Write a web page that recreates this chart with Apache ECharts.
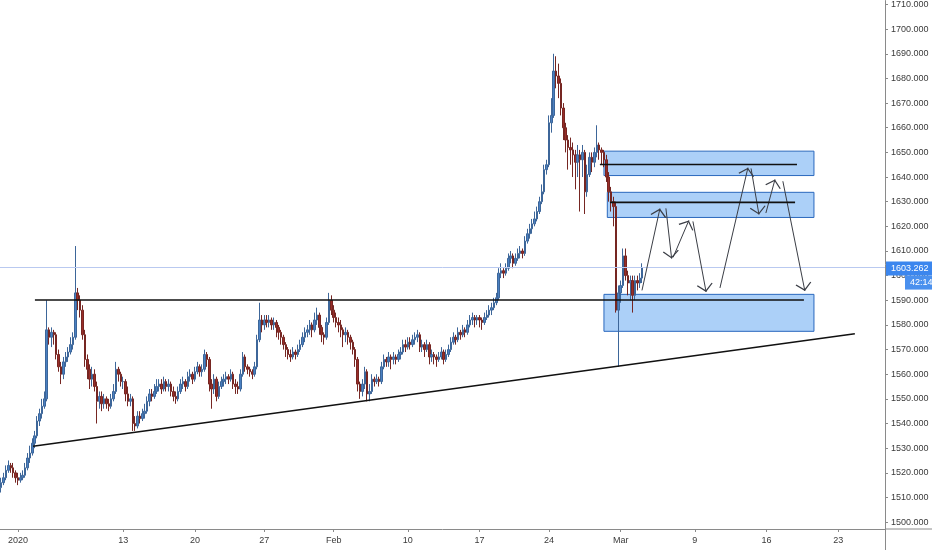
<!DOCTYPE html>
<html>
<head>
<meta charset="utf-8">
<script src="https://cdn.jsdelivr.net/npm/echarts@6/dist/echarts.min.js"></script>
<style>
html,body{margin:0;padding:0;background:#fff;}
#c{width:932px;height:550px;}
</style>
</head>
<body>
<div id="c"></div>
<script>
// ---------- data ----------
const slotCount = 370;                       // 4h bars that fit across the time axis
const slots = Array.from({length: slotCount}, (_, i) => String(i));
const tickIdx = [7, 51, 81, 110, 139, 170, 200, 229, 259, 290, 320, 350];
const tickLabels = ['2020', '13', '20', '27', 'Feb', '10', '17', '24', 'Mar', '9', '16', '23'];
const priceTicks = [1500,1510,1520,1530,1540,1550,1560,1570,1580,1590,1600,1610,1620,1630,1640,1650,1660,1670,1680,1690,1700,1710];
const lastPrice = 1603.262;
const countdown = '42:14';

// [open, close, low, high]
const candles = [
[1514,1516,1512,1518],[1516,1518,1515,1520],[1518,1521,1517,1523],[1521,1523,1520,1525],[1523,1522,1520,1524],
[1522,1520,1518,1524],[1520,1518,1516,1521],[1518,1517,1515,1520],[1517,1518,1516,1520],[1518,1519,1517,1521],
[1519,1522,1518,1524],[1522,1526,1521,1528],[1526,1528,1524,1531],[1528,1532,1527,1534],[1532,1535,1530,1537],
[1535,1541,1534,1543],[1541,1544,1539,1546],[1544,1547,1542,1550],[1547,1550,1546,1553],[1550,1578,1549,1590],
[1578,1575,1572,1579],[1575,1577,1571,1579],[1577,1576,1572,1578],[1576,1568,1566,1577],[1568,1563,1561,1570],
[1563,1560,1556,1565],[1560,1565,1558,1567],[1565,1567,1563,1569],[1567,1569,1565,1571],[1569,1572,1568,1575],
[1572,1575,1570,1577],[1575,1593,1574,1612],[1593,1590,1586,1595],[1590,1586,1583,1592],[1586,1576,1574,1588],
[1576,1566,1563,1578],[1566,1562,1558,1568],[1562,1558,1554,1564],[1558,1560,1555,1563],[1560,1555,1553,1562],
[1555,1549,1540,1557],[1549,1551,1546,1553],[1551,1548,1545,1553],[1548,1550,1546,1552],[1550,1548,1546,1551],
[1548,1547,1545,1550],[1547,1550,1546,1552],[1550,1553,1549,1556],[1553,1562,1552,1565],[1562,1560,1557,1563],
[1560,1557,1555,1561],[1557,1557,1554,1559],[1557,1552,1549,1558],[1552,1549,1547,1555],[1549,1550,1547,1552],
[1550,1540,1537,1551],[1540,1539,1537,1543],[1539,1543,1538,1545],[1543,1542,1540,1545],[1542,1544,1541,1546],
[1544,1545,1542,1548],[1545,1549,1544,1551],[1549,1552,1547,1554],[1552,1551,1549,1554],[1551,1553,1550,1556],
[1553,1555,1552,1558],[1555,1556,1553,1558],[1556,1554,1552,1558],[1554,1557,1553,1559],[1557,1555,1553,1558],
[1555,1556,1553,1558],[1556,1553,1551,1557],[1553,1551,1549,1555],[1551,1550,1548,1553],[1550,1553,1549,1555],
[1553,1556,1552,1558],[1556,1557,1554,1559],[1557,1555,1553,1558],[1555,1559,1554,1561],[1559,1560,1557,1562],
[1560,1558,1556,1561],[1558,1561,1557,1563],[1561,1563,1560,1565],[1563,1561,1559,1564],[1561,1562,1559,1564],
[1562,1568,1561,1570],[1568,1566,1563,1569],[1566,1556,1553,1567],[1556,1554,1546,1558],[1554,1558,1552,1560],
[1558,1551,1549,1559],[1551,1555,1550,1557],[1555,1557,1554,1559],[1557,1558,1555,1560],[1558,1559,1556,1561],
[1559,1558,1556,1560],[1558,1560,1557,1562],[1560,1556,1554,1561],[1556,1555,1552,1558],[1555,1554,1552,1557],
[1554,1560,1553,1562],[1560,1567,1559,1569],[1567,1563,1561,1568],[1563,1562,1560,1564],[1562,1561,1559,1563],
[1561,1560,1558,1562],[1560,1563,1559,1565],[1563,1574,1562,1576],[1574,1582,1573,1589],[1582,1580,1577,1584],
[1580,1582,1578,1584],[1582,1581,1579,1584],[1581,1582,1579,1584],[1582,1580,1578,1583],[1580,1581,1578,1583],
[1581,1579,1575,1582],[1579,1577,1574,1580],[1577,1575,1572,1578],[1575,1572,1570,1576],[1572,1570,1567,1573],
[1570,1568,1566,1571],[1568,1567,1565,1570],[1567,1569,1566,1571],[1569,1568,1566,1570],[1568,1570,1567,1572],
[1570,1572,1569,1574],[1572,1575,1571,1577],[1575,1577,1573,1579],[1577,1578,1575,1580],[1578,1580,1576,1582],
[1580,1578,1575,1581],[1578,1582,1577,1585],[1582,1584,1580,1587],[1584,1579,1576,1585],[1579,1576,1573,1580],
[1576,1575,1572,1577],[1575,1581,1574,1583],[1581,1590,1580,1593],[1590,1586,1584,1592],[1586,1583,1581,1588],
[1583,1581,1579,1585],[1581,1580,1577,1583],[1580,1578,1575,1582],[1578,1576,1571,1579],[1576,1577,1573,1579],
[1577,1575,1572,1578],[1575,1573,1570,1576],[1573,1570,1568,1574],[1570,1566,1563,1571],[1566,1556,1553,1567],
[1556,1553,1550,1557],[1553,1556,1551,1558],[1556,1561,1554,1563],[1561,1552,1549,1562],[1552,1553,1549,1556],
[1553,1558,1552,1560],[1558,1557,1555,1559],[1557,1558,1556,1560],[1558,1557,1555,1559],[1557,1563,1556,1565],
[1563,1566,1562,1568],[1566,1565,1563,1567],[1565,1567,1563,1569],[1567,1566,1562,1568],[1566,1567,1564,1569],
[1567,1566,1564,1568],[1566,1568,1565,1570],[1568,1569,1566,1571],[1569,1572,1568,1574],[1572,1571,1569,1574],
[1571,1573,1570,1575],[1573,1572,1570,1575],[1572,1574,1571,1576],[1574,1575,1572,1577],[1575,1576,1573,1578],
[1576,1571,1569,1577],[1571,1572,1569,1574],[1572,1570,1567,1573],[1570,1572,1569,1574],[1572,1567,1564,1573],
[1567,1568,1565,1570],[1568,1567,1564,1569],[1567,1566,1563,1568],[1566,1567,1565,1569],[1567,1569,1566,1571],
[1569,1566,1564,1570],[1566,1568,1565,1570],[1568,1570,1567,1572],[1570,1573,1569,1575],[1573,1575,1572,1577],
[1575,1574,1572,1576],[1574,1577,1573,1579],[1577,1576,1574,1578],[1576,1578,1575,1580],[1578,1577,1575,1579],
[1577,1580,1576,1582],[1580,1582,1579,1584],[1582,1583,1580,1585],[1583,1582,1579,1584],[1582,1583,1580,1584],
[1583,1582,1579,1584],[1582,1581,1578,1583],[1581,1583,1580,1585],[1583,1584,1582,1586],[1584,1586,1583,1588],
[1586,1587,1584,1589],[1587,1589,1586,1591],[1589,1591,1588,1593],[1591,1601,1590,1603],[1601,1602,1599,1605],
[1602,1601,1599,1603],[1601,1603,1600,1605],[1603,1607,1602,1609],[1607,1608,1605,1610],[1608,1605,1603,1609],
[1605,1607,1604,1609],[1607,1609,1606,1611],[1609,1610,1607,1612],[1610,1609,1607,1611],[1609,1614,1608,1616],
[1614,1617,1613,1619],[1617,1619,1615,1621],[1619,1621,1617,1623],[1621,1623,1620,1626],[1623,1626,1622,1628],
[1626,1630,1625,1632],[1630,1634,1629,1637],[1634,1643,1633,1645],[1643,1645,1641,1647],[1645,1662,1644,1665],
[1662,1665,1658,1672],[1665,1683,1664,1690],[1683,1681,1676,1689],[1681,1678,1672,1686],[1678,1668,1665,1680],
[1668,1660,1655,1670],[1660,1655,1650,1662],[1655,1652,1643,1657],[1652,1651,1645,1656],[1651,1649,1640,1654],
[1649,1646,1635,1651],[1646,1649,1640,1653],[1649,1647,1626,1651],[1647,1650,1640,1653],[1650,1634,1625,1651],
[1634,1641,1632,1645],[1641,1648,1640,1650],[1648,1646,1642,1650],[1646,1650,1644,1652],[1650,1653,1648,1661],
[1653,1651,1647,1654],[1651,1650,1645,1652],[1650,1647,1644,1651],[1647,1640,1638,1649],[1640,1634,1630,1642],
[1634,1630,1626,1636],[1630,1628,1620,1632],[1628,1586,1585,1630],[1586,1593,1563,1596],[1593,1596,1589,1598],
[1596,1608,1595,1611],[1608,1600,1598,1611],[1600,1597,1592,1602],[1597,1598,1590,1600],[1598,1592,1585,1600],
[1592,1598,1590,1600],[1598,1597,1594,1600],[1597,1599,1595,1601],[1599,1603.262,1597,1605]
];

// drawings (x in bar-slot units, y in price)
const trendLine = [[13.3, 1530.8], [356.9, 1576.4]];
const resistanceLine = [[14.1, 1590.1], [335.6, 1590.1]];
const zoneLineA = [[250.3, 1645.1], [332.7, 1645.1]];
const zoneLineB = [[254.5, 1629.7], [331.9, 1629.7]];
const zones = [           // [x1, top, x2, bottom]
  [252.0, 1650.5, 339.8, 1640.6],
  [253.4, 1633.8, 339.8, 1623.6],
  [252.0, 1592.4, 339.8, 1577.4]
];
const arrows = [          // [x1, y1, x2, y2]
  [267.9, 1594.0, 275.4, 1627.2],
  [277.9, 1627.3, 280.3, 1606.9],
  [280.9, 1607.4, 287.5, 1622.4],
  [289.2, 1622.0, 294.7, 1593.4],
  [300.5, 1595.0, 312.2, 1643.8],
  [313.5, 1643.5, 316.8, 1624.8],
  [319.7, 1625.4, 323.5, 1639.0],
  [326.8, 1638.3, 336.0, 1593.8]
];

// ---------- chart ----------
const FONT = 'Liberation Sans, Arial, sans-serif';
const AXIS = '#8a8a8a';
// open chevron pointing "up"; an invisible speck below keeps the apex at the symbol centre
const chevron = 'path://M0,7L7,0L14,7L13.2,7.8L7,1.6L0.8,7.8Z M6.95,-7.8L7.05,-7.8L7,-7.75Z';
const chart = echarts.init(document.getElementById('c'), null, {renderer: 'canvas'});

const lineSeries = (pts, width, color) => ({
  type: 'line', xAxisIndex: 1, yAxisIndex: 0, data: pts, symbol: 'none', silent: true,
  lineStyle: {color: color, width: width}, z: 6, animation: false
});

chart.setOption({
  animation: false,
  backgroundColor: '#ffffff',
  grid: {left: 0, right: 47, top: 0, bottom: 21, containLabel: false},
  xAxis: [{
    type: 'category', data: slots, boundaryGap: true,
    axisLine: {show: true, onZero: false, lineStyle: {color: AXIS, width: 1}},
    axisTick: {show: true, alignWithLabel: true, length: 3, lineStyle: {color: AXIS},
      interval: (i) => tickIdx.includes(i)},
    axisLabel: {interval: (i) => tickIdx.includes(i), margin: 7, fontSize: 9, color: '#3a3a3a', fontFamily: FONT,
      formatter: (v) => { const k = tickIdx.indexOf(Number(v)); return k >= 0 ? tickLabels[k] : ''; }},
    splitLine: {show: false}
  }, {
    type: 'value', min: -0.5, max: slotCount - 0.5, show: false
  }],
  yAxis: [{
    type: 'value', position: 'right', min: 1497.2, max: 1711.6, scale: true,
    axisLine: {show: true, onZero: false, lineStyle: {color: AXIS, width: 1}},
    axisTick: {show: true, length: 3, customValues: priceTicks, lineStyle: {color: AXIS}},
    axisLabel: {customValues: priceTicks, margin: 6, fontSize: 9, color: '#3a3a3a', fontFamily: FONT,
      formatter: (v) => Number(v).toFixed(3)},
    splitLine: {show: false}
  }],
  series: [
    {
      type: 'candlestick', xAxisIndex: 0, yAxisIndex: 0, data: candles, barWidth: 2,
      itemStyle: {color: '#4a80c2', color0: '#9a2d28', borderColor: '#3d6699', borderColor0: '#762622', borderWidth: 1},
      z: 2,
      markLine: {
        silent: true, symbol: ['none', 'none'], animation: false,
        label: {show: false},
        lineStyle: {color: '#b9c9f0', width: 1, type: 'solid'},
        data: [{yAxis: lastPrice}]
      }
    },
    Object.assign(lineSeries(trendLine, 1.6, '#111111'), {
      markArea: {
        silent: true, animation: false,
        itemStyle: {color: 'rgba(70,150,240,0.45)', borderColor: '#2a68bd', borderWidth: 1},
        data: zones.map(z => [{coord: [z[0], z[1]]}, {coord: [z[2], z[3]]}])
      }
    }),
    lineSeries(resistanceLine, 1.6, '#111111'),
    lineSeries(zoneLineA, 1.6, '#111111'),
    lineSeries(zoneLineB, 1.6, '#111111'),
    {
      type: 'line', xAxisIndex: 1, yAxisIndex: 0, data: [], symbol: 'none', z: 7,
      markLine: {
        silent: true, animation: false, precision: 4,
        symbol: ['none', chevron], symbolSize: 16,
        label: {show: false},
        lineStyle: {color: '#3a3d45', width: 1, type: 'solid'},
        itemStyle: {color: '#3a3d45'},
        data: arrows.map(a => [{coord: [a[0], a[1]]}, {coord: [a[2], a[3]]}])
      }
    }
  ]
});

// price tag on the right axis, placed from the last price through the axis scale
const yTag = chart.convertToPixel({yAxisIndex: 0}, lastPrice);
const gridRight = 932 - 47;
const gridBottom = 550 - 21;
chart.setOption({
  graphic: [
    {type: 'line', shape: {x1: gridRight, y1: gridBottom, x2: 932, y2: gridBottom}, style: {stroke: AXIS, lineWidth: 1}, z: 10},
    {type: 'line', shape: {x1: gridRight + 0.5, y1: gridBottom, x2: gridRight + 0.5, y2: 550}, style: {stroke: AXIS, lineWidth: 1}, z: 10},
    {type: 'rect', shape: {x: gridRight + 1, y: yTag - 6, width: 932 - gridRight, height: 14}, style: {fill: '#3b86ee'}, z: 20},
    {type: 'text', x: gridRight + 6, y: yTag + 1, style: {text: lastPrice.toFixed(3), fill: '#ffffff', font: '9px ' + FONT, verticalAlign: 'middle'}, z: 21},
    {type: 'rect', shape: {x: 905, y: yTag + 8, width: 27, height: 14}, style: {fill: '#4a90ee'}, z: 20},
    {type: 'text', x: 910, y: yTag + 15, style: {text: countdown, fill: '#ffffff', font: '9px ' + FONT, verticalAlign: 'middle'}, z: 21}
  ]
});
</script>
</body>
</html>
